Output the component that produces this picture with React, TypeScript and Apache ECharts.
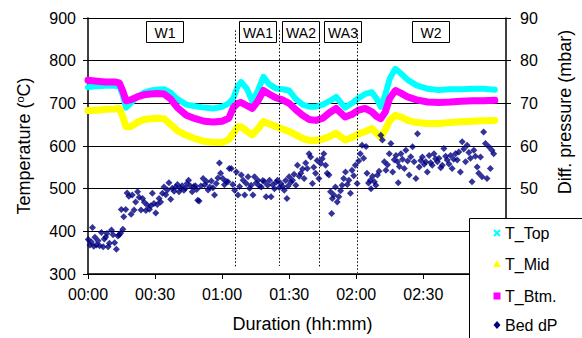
import React, { useEffect, useRef } from "react";
import * as echarts from "echarts";

const FONT = "'Liberation Sans', Arial, sans-serif";

// minutes since start
const tempTimes = [0, 4, 8, 12, 14, 15.5, 17, 19, 22, 25, 28, 31, 34, 37, 40, 44, 48, 52, 56, 60, 63, 65, 67, 68.5, 71, 73.5, 76, 78.5, 81, 84, 87, 90, 93, 96, 99, 102, 105, 108, 111, 113, 115, 118, 121, 124, 127, 129, 131, 133, 135, 137.5, 140, 143, 147, 152, 157, 162, 167, 172, 177, 182];

const tTop = [738, 740, 741, 741, 740, 720, 690, 700, 715, 725, 730, 732, 733, 725, 710, 697, 693, 690, 688, 692, 700, 712, 740, 750, 735, 705, 730, 762, 745, 735, 733, 730, 710, 697, 692, 692, 697, 705, 715, 702, 690, 700, 712, 722, 726, 712, 692, 720, 758, 781, 770, 755, 742, 734, 731, 733, 733, 734, 734, 732];

const tMid = [683, 684, 686, 687, 688, 670, 645, 645, 655, 662, 664, 665, 664, 650, 636, 625, 617, 611, 609, 608, 615, 630, 645, 645, 635, 626, 640, 657, 652, 646, 640, 634, 626, 618, 613, 613, 616, 622, 630, 622, 614, 620, 628, 634, 641, 630, 621, 638, 660, 672, 668, 660, 655, 653, 653, 655, 657, 658, 659, 660];

const tBtm = [754, 752, 750, 750, 748, 730, 706, 708, 715, 720, 722, 723, 722, 710, 690, 672, 664, 658, 656, 658, 665, 690, 700, 702, 695, 688, 705, 730, 722, 713, 708, 700, 685, 672, 662, 660, 665, 678, 688, 678, 668, 674, 684, 688, 680, 670, 664, 680, 712, 730, 724, 715, 708, 703, 702, 703, 705, 706, 706, 707];

// [minutes, mbar]
const bedDP: [number, number][] = [
  [0.1, 38.1], [0.9, 36.8], [1.5, 37.5], [2, 40.9], [2.6, 36.5], [3.1, 38.6], [3.8, 36.8], [4.5, 37.8], [5.2, 36.6], [6, 39.7],
  [6.8, 36.4], [7.3, 38.2], [7.9, 38.7], [8.5, 39.5], [9, 36.4], [9.6, 37.2], [10.5, 40.3], [11.2, 39.2], [11.9, 37.3], [12.7, 35.8],
  [13.4, 38.9], [14, 39.2], [14.6, 39.6], [15.6, 40.5], [14.9, 45.1], [16, 43.4], [16.9, 45.1], [17.5, 49], [18.3, 48.2], [19.3, 44],
  [19.8, 48.5], [20.6, 45], [21.3, 46.9], [22.2, 49.3], [22.9, 48], [23.7, 45], [24.4, 47.7], [25.2, 46.8], [25.9, 44.9], [26.6, 46.1],
  [27.5, 45.2], [28.1, 46], [28.8, 48.9], [29.5, 46.5], [30.3, 44.3], [31, 46.3], [31.8, 47.7], [32.5, 46.9], [33.3, 48.9], [34, 50.4],
  [34.8, 48.6], [35.5, 49.7], [36.2, 51.4], [37, 47.5], [37.7, 50.1], [38.5, 49.4], [39.2, 50.4], [40, 51], [40.7, 49.3], [41.4, 50.1],
  [42.1, 50.7], [42.9, 49.6], [43.6, 50.1], [44.3, 51.2], [45, 52], [45.8, 50.6], [46.6, 49.3], [47.3, 50.5], [48, 50.7], [48.6, 49.8],
  [49.1, 47.3], [49.7, 47.1], [50.5, 50.6], [51.5, 52.4], [52.2, 50.9], [53, 51.7], [53.7, 49.7], [54.4, 50.4], [55.2, 51.8], [55.9, 50.2],
  [56.6, 48.5], [57.4, 51.2], [58.1, 52.5], [58.8, 56], [59.3, 53.6], [60.3, 52.4], [61, 50.9], [61.8, 51.7], [62.6, 51.6], [63.2, 54.7],
  [64.1, 54.7], [64.8, 51], [65.6, 49.6], [66.4, 53.9], [67.1, 48.5], [67.8, 50.5], [68.6, 53.2], [69.4, 52], [70.1, 48.5], [70.8, 51.2],
  [71.6, 52.8], [72.3, 50.1], [73, 50.8], [73.8, 48.5], [74.5, 52.8], [75.2, 51.3], [76, 52], [76.7, 50.6], [77.5, 50.4], [78.2, 51.9],
  [78.9, 51.6], [79.7, 48.1], [80.4, 50.8], [81.2, 52], [81.9, 48.1], [82.6, 50.9], [83.4, 50], [84.1, 51.5], [84.8, 52], [85.6, 50.3],
  [86.3, 51.2], [87.1, 50.5], [87.8, 49.6], [88.4, 51.9], [89, 47.7], [89.5, 50.6], [90, 52.8], [90.8, 51.5], [91.5, 52], [92.2, 53.4],
  [93, 50.8], [93.7, 55.5], [94.5, 52.9], [95.2, 53.6], [96, 54.6], [96.7, 52.4], [97.4, 56], [98.1, 54.7], [98.9, 58.2], [99.6, 57.4],
  [100.4, 51.2], [101, 55], [101.8, 53.6], [102.5, 56.6], [103.3, 52.4], [104.1, 55.9], [104.8, 57], [105.5, 58.2], [106.3, 55.5], [107, 53.6],
  [107.8, 53.2], [108.5, 49.3], [109, 44.2], [109.3, 47.7], [110, 48.5], [110.7, 50.4], [111.5, 46.9], [112.2, 48.1], [113, 49.5], [113.7, 50.8],
  [114.4, 52.4], [115.2, 53.9], [116, 51], [116.7, 52], [117.4, 48.9], [118.1, 54.3], [118.9, 53], [119.6, 55.5], [120.4, 51.2], [121.1, 56.5],
  [121.8, 58.2], [122.6, 60.2], [123.3, 57.1], [124.4, 59.9], [124.8, 53.6], [125.5, 51.3], [126.3, 52], [126.6, 50], [127.3, 52.9], [128.1, 51.6],
  [128.8, 50.8], [129.5, 53.2], [130.2, 54.1], [131, 62.5], [131.7, 61.4], [132.6, 56.3], [133.3, 54.3], [134, 55.6], [134.8, 58.2], [135.5, 60.6],
  [136.3, 53.9], [137, 56.8], [137.8, 57.8], [138.5, 56.3], [138.8, 51.4], [139.3, 55.2], [140, 58.2], [140.7, 56.9], [141.5, 54.7], [142.2, 59],
  [143, 56.5], [143.7, 53.2], [144.4, 57.5], [145.2, 59.8], [145.9, 56.3], [146.7, 52.4], [147.4, 62.9], [148.2, 55.1], [148.9, 56.6], [149.6, 57.4],
  [150.4, 55.7], [151.1, 56.3], [151.8, 53.9], [152.6, 57.8], [153.3, 56.1], [154, 55.5], [154.8, 58.2], [155.5, 57], [156.3, 56.3], [157, 57.1],
  [157.8, 54.9], [158.5, 55.5], [159.2, 59.4], [160, 57.6], [160.7, 56.7], [161.5, 55.8], [162.2, 57.8], [162.9, 54.7], [163.6, 56.9], [164.4, 58.2],
  [165.2, 56.7], [165.9, 58.6], [166.6, 53.9], [167.4, 61], [168.1, 59.3], [168.9, 56.3], [169.6, 60.2], [170.4, 58.5], [171.1, 57.1], [171.8, 51.6],
  [172.6, 59], [173.3, 57.6], [174.1, 55.1], [174.8, 53.6], [175.6, 57.4], [176.3, 52.8], [177, 63.3], [177.8, 60.6], [178.5, 52.4], [179.3, 59.8],
  [180, 54.7], [180.7, 59], [181.5, 58.2],
];

// phase boundaries (minutes) and dotted-line extents (°C)
const phaseBounds = [66, 85.7, 103.5, 120.4];
const phaseLineTop = 871;
const phaseLineBottoms = [314, 319, 314, 303];
const phaseLabels = ["W1", "WA1", "WA2", "WA3", "W2"];
const phaseLabelLeft = [146, 239, 282, 324, 412];

const seriesNames = ["T_Top", "T_Mid", "T_Btm.", "Bed dP"];
const colors = ["#00FFFF", "#FFFF00", "#FF00FF", "#000080"];

const pad = (n: number) => String(n).padStart(2, "0");
const fmtTime = (v: number) => (v >= 180 ? "" : `${pad(Math.floor(v / 60))}:${pad(Math.round(v % 60))}`);

export default function App() {
  const ref = useRef<HTMLDivElement>(null);
  useEffect(() => {
    if (!ref.current) return;
    const chart = echarts.init(ref.current, null, { renderer: "svg" });
    const zip = (vals: number[]) => tempTimes.map((t, i) => [t, vals[i]]);
    const labelGraphics = phaseLabels.map((lab, i) => ({
      type: "group",
      left: phaseLabelLeft[i],
      top: 21,
      z: 100,
      children: [
        { type: "rect", shape: { x: 0, y: 0, width: 37, height: 21 }, style: { fill: "#fff", stroke: "#000", lineWidth: 1 } },
        {
          type: "text",
          x: 18.5,
          y: 11,
          style: { text: lab, fill: "#000", font: `14px ${FONT}`, textAlign: "center", textVerticalAlign: "middle" },
        },
      ],
    }));

    // legend drawn as a box with markers and texts
    const mx = 497;
    const rowY = [233, 264, 296, 325];
    const legendEls: any[] = [
      { type: "rect", z: 40, shape: { x: 469.5, y: 218.5, width: 130, height: 140 }, style: { fill: "#fff", stroke: "#000", lineWidth: 1 } },
      { type: "line", z: 41, shape: { x1: mx - 3, y1: rowY[0] - 3, x2: mx + 3, y2: rowY[0] + 3 }, style: { stroke: colors[0], lineWidth: 2 } },
      { type: "line", z: 41, shape: { x1: mx - 3, y1: rowY[0] + 3, x2: mx + 3, y2: rowY[0] - 3 }, style: { stroke: colors[0], lineWidth: 2 } },
      { type: "polygon", z: 41, shape: { points: [[mx, rowY[1] - 4], [mx + 4, rowY[1] + 3], [mx - 4, rowY[1] + 3]] }, style: { fill: colors[1] } },
      { type: "rect", z: 41, shape: { x: mx - 3.5, y: rowY[2] - 3.5, width: 7, height: 7 }, style: { fill: colors[2] } },
      { type: "polygon", z: 41, shape: { points: [[mx, rowY[3] - 4], [mx + 3.5, rowY[3]], [mx, rowY[3] + 4], [mx - 3.5, rowY[3]]] }, style: { fill: colors[3] } },
      ...seriesNames.map((n, i) => ({
        type: "text",
        z: 41,
        x: 505,
        y: rowY[i],
        style: { text: n, fill: "#000", font: `16px ${FONT}`, textAlign: "left", textVerticalAlign: "middle" },
      })),
    ];

    chart.setOption({
      animation: false,
      backgroundColor: "#fff",
      textStyle: { fontFamily: FONT },
      grid: { left: 88, right: 71, top: 18, bottom: 64 },
      legend: { show: false },
      xAxis: {
        type: "value",
        min: 0,
        max: 187,
        interval: 30,
        name: "Duration (hh:mm)",
        nameLocation: "middle",
        nameGap: 41,
        nameTextStyle: { fontSize: 18, color: "#000", fontFamily: FONT, padding: [0, 0, 0, 11] },
        axisLine: { show: true, onZero: false, lineStyle: { color: "#000", width: 1.5 } },
        axisTick: { show: true, length: 5, lineStyle: { color: "#000" } },
        axisLabel: { formatter: fmtTime, fontSize: 16, color: "#000", margin: 12, fontFamily: FONT },
        splitLine: { show: false },
      },
      yAxis: [
        {
          type: "value",
          min: 300,
          max: 900,
          interval: 100,
          name: "Temperature ({sup|o}C)",
          nameLocation: "middle",
          nameGap: 55,
          nameRotate: 90,
          nameTextStyle: {
            fontSize: 18,
            color: "#000",
            fontFamily: FONT,
            rich: { sup: { fontSize: 11, fontFamily: FONT, color: "#000", verticalAlign: "top", padding: [0, 0, 8, 0] } },
          },
          axisLine: { show: true, lineStyle: { color: "#000", width: 1.5 } },
          axisTick: { show: true, length: 5, lineStyle: { color: "#000" } },
          axisLabel: { fontSize: 16, color: "#000", margin: 12, fontFamily: FONT },
          splitLine: { show: true, lineStyle: { color: "#000", width: 1 } },
        },
        {
          type: "value",
          min: 30,
          max: 90,
          interval: 10,
          position: "right",
          name: "Diff. pressure (mbar)",
          nameLocation: "middle",
          nameGap: 50,
          nameRotate: 90,
          nameTextStyle: { fontSize: 18, color: "#000", fontFamily: FONT, padding: [0, 0, 0, 68] },
          axisLine: { show: true, lineStyle: { color: "#000", width: 1.5 } },
          axisTick: { show: true, length: 5, lineStyle: { color: "#000" } },
          axisLabel: { fontSize: 16, color: "#000", margin: 14, fontFamily: FONT, formatter: (v: number) => (v >= 50 ? String(v) : "") },
          splitLine: { show: false },
        },
      ],
      graphic: [...labelGraphics, ...legendEls],
      series: [
        {
          name: seriesNames[0],
          type: "line",
          yAxisIndex: 0,
          data: zip(tTop),
          showSymbol: false,
          symbol: "none",
          itemStyle: { color: colors[0] },
          lineStyle: { color: colors[0], width: 6, join: "round", cap: "round" },
          z: 2,
        },
        {
          name: seriesNames[1],
          type: "line",
          yAxisIndex: 0,
          data: zip(tMid),
          showSymbol: false,
          symbol: "none",
          itemStyle: { color: colors[1] },
          lineStyle: { color: colors[1], width: 7, join: "round", cap: "round" },
          z: 3,
        },
        {
          name: seriesNames[2],
          type: "line",
          yAxisIndex: 0,
          data: zip(tBtm),
          showSymbol: false,
          symbol: "none",
          itemStyle: { color: colors[2] },
          lineStyle: { color: colors[2], width: 7, join: "round", cap: "round" },
          z: 4,
          markLine: {
            silent: true,
            symbol: "none",
            label: { show: false },
            lineStyle: { color: "#000", width: 1, type: [1.5, 2] },
            data: phaseBounds.map((t, i) => [{ coord: [t, phaseLineTop] }, { coord: [t, phaseLineBottoms[i]] }]),
          },
        },
        {
          name: seriesNames[3],
          type: "scatter",
          yAxisIndex: 1,
          data: bedDP,
          symbol: "diamond",
          symbolSize: 7,
          itemStyle: { color: colors[3] },
          z: 5,
        },
      ],
    });
    return () => chart.dispose();
  }, []);
  return <div ref={ref} style={{ position: "fixed", left: 0, top: 0, width: 582, height: 338 }} />;
}
